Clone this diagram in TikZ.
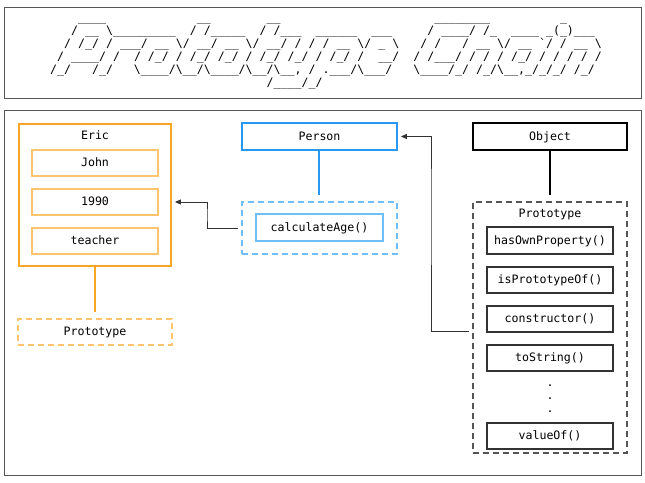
\documentclass[tikz,border=0pt]{standalone}
\usepackage{fontspec}
\setmonofont{DejaVu Sans Mono}
\usetikzlibrary{arrows.meta}
\ExplSyntaxOn
\cs_new:Npn \artrep #1#2 { \prg_replicate:nn {#1} {#2} }
\ExplSyntaxOff
\newcommand\Sp[1]{\artrep{#1}{~}}
\newcommand\Us[1]{\artrep{#1}{\_}}
\newcommand\Bk{\textbackslash}
\definecolor{framegray}{HTML}{555555}
\definecolor{orangeA}{RGB}{247,166,35}
\definecolor{orangeB}{RGB}{255,196,110}
\definecolor{blueA}{RGB}{41,152,243}
\definecolor{blueB}{RGB}{110,190,250}
\definecolor{linkgray}{HTML}{333333}
\begin{document}
\begin{tikzpicture}[x=1pt,y=-1pt,
  every node/.style={font=\ttfamily\fontsize{11.6}{13}\selectfont},
  artline/.style={anchor=base west, inner sep=0pt},
  frame/.style={draw=framegray, line width=0.9pt},
  txt/.style={inner sep=0pt, text height=8.5pt, text depth=1.5pt},
  bigbox/.style={draw, line width=1.8pt, minimum height=27pt, inner sep=0pt, text height=8.5pt, text depth=1.5pt},
  smallbox/.style={draw, line width=1.3pt, minimum width=126pt, minimum height=26pt, inner sep=0pt, text height=8.5pt, text depth=1.5pt},
  dashbox/.style={draw, line width=1.2pt, dash pattern=on 6pt off 4pt, inner sep=0pt, text height=8.5pt, text depth=1.5pt},
  stem/.style={line width=2pt},
  link/.style={draw=linkgray, line width=0.9pt, -{Triangle[length=6pt,width=5pt]}, shorten >=3pt, shorten <=3pt}
]
\useasboundingbox (0,0) rectangle (645,482);
% frames
\draw[frame] (4,7) rectangle (641,98);
\draw[frame] (4,110) rectangle (641,475);
% ASCII title
\node[artline] (art1) at (50,21.3) {\Sp4\Us4\Sp{13}\Us2\Sp8\Us2\Sp{22}\Us8\Sp{10}\Us1};
\node[artline] (art2) at (50,34.4) {\Sp3/\Sp1\Us2\Sp1\Bk\Us9\Sp2/\Sp1/\Us5\Sp2/\Sp1/\Us3\Sp2\Us6\Sp2\Us3\Sp5/\Sp1\Us4/\Sp1/\Us1\Sp2\Us4\Sp1\Us1(\Us1)\Us3};
\node[artline] (art3) at (50,47.5) {\Sp2/\Sp1/\Us1/\Sp1/\Sp1\Us3/\Sp1\Us2\Sp1\Bk/\Sp1\Us2/\Sp1\Us2\Sp1\Bk/\Sp1\Us2/\Sp1/\Sp1/\Sp1/\Sp1\Us2\Sp1\Bk/\Sp1\Us1\Sp1\Bk\Sp3/\Sp1/\Sp3/\Sp1\Us2\Sp1\Bk/\Sp1\Us2\Sp1`/\Sp1/\Sp1\Us2\Sp1\Bk};
\node[artline] (art4) at (50,60.6) {\Sp1/\Sp1\Us4/\Sp1/\Sp2/\Sp1/\Us1/\Sp1/\Sp1/\Us1/\Sp1/\Us1/\Sp1/\Sp1/\Us1/\Sp1/\Us1/\Sp1/\Sp1/\Us1/\Sp1/\Sp2\Us2/\Sp2/\Sp1/\Us3/\Sp1/\Sp1/\Sp1/\Sp1/\Us1/\Sp1/\Sp1/\Sp1/\Sp1/\Sp1/};
\node[artline] (art5) at (50,73.7) {/\Us1/\Sp3/\Us1/\Sp3\Bk\Us4/\Bk\Us2/\Bk\Us4/\Bk\Us2/\Bk\Us2,\Sp1/\Sp1.\Us3/\Bk\Us3/\Sp3\Bk\Us4/\Us1/\Sp1/\Us1/\Bk\Us2,\Us1/\Us1/\Us1/\Sp1/\Us1/};
\node[artline] (art6) at (50,86.8) {\Sp{31}/\Us4/\Us1/};
% Eric
\node[bigbox, draw=orangeA, minimum width=152pt, minimum height=142pt] (eric) at (95,195) {};
\node[txt] (ericlabel) at (95,135.8) {Eric};
\node[smallbox, draw=orangeB] (john) at (95,163) {John};
\node[smallbox, draw=orangeB] (year) at (95,202) {1990};
\node[smallbox, draw=orangeB] (job) at (95,241) {teacher};
\coordinate (ericend) at (95,312);
\draw[stem, orangeA] (eric.south) -- (ericend);
\node[dashbox, draw=orangeB, minimum width=154pt, minimum height=26pt] (ericproto) at (95,332) {Prototype};
% Person
\node[bigbox, draw=blueA, minimum width=155pt] (person) at (319.5,136.5) {Person};
\coordinate (personend) at (319,195);
\draw[stem, blueA] ([xshift=-0.5pt]person.south) -- (personend);
\node[dashbox, draw=blueB, minimum width=155pt, minimum height=52pt] (persproto) at (319.5,228) {};
\node[smallbox, draw=blueB, minimum width=127pt, minimum height=27pt] (calc) at (319.5,227.5) {calculateAge()};
% Object
\node[bigbox, draw=black, minimum width=154pt] (object) at (550,136.5) {Object};
\coordinate (objectend) at (550,195);
\draw[stem, black] (object.south) -- (objectend);
\node[dashbox, draw=framegray, minimum width=154pt, minimum height=251pt] (objproto) at (550,327.5) {};
\node[txt] (objprotolabel) at (550,213.8) {Prototype};
\node[smallbox, draw=linkgray, minimum height=27pt] (hasown) at (550,240.5) {hasOwnProperty()};
\node[smallbox, draw=linkgray] (isproto) at (550,280) {isPrototypeOf()};
\node[smallbox, draw=linkgray] (ctor) at (550,319) {constructor()};
\node[smallbox, draw=linkgray] (tostr) at (550,358) {toString()};
\node[artline, anchor=base] (dot1) at (550,386.8) {.};
\node[artline, anchor=base] (dot2) at (550,399.4) {.};
\node[artline, anchor=base] (dot3) at (550,412.4) {.};
\node[smallbox, draw=linkgray] (valueof) at (550,436) {valueOf()};
% links
\draw[link] (persproto.west) -| (207,215) |- ([yshift=-7pt]eric.east);
\draw[link] ([yshift=-3.5pt]objproto.west) -| (431,200) |- (person.east);
\end{tikzpicture}
\end{document}
